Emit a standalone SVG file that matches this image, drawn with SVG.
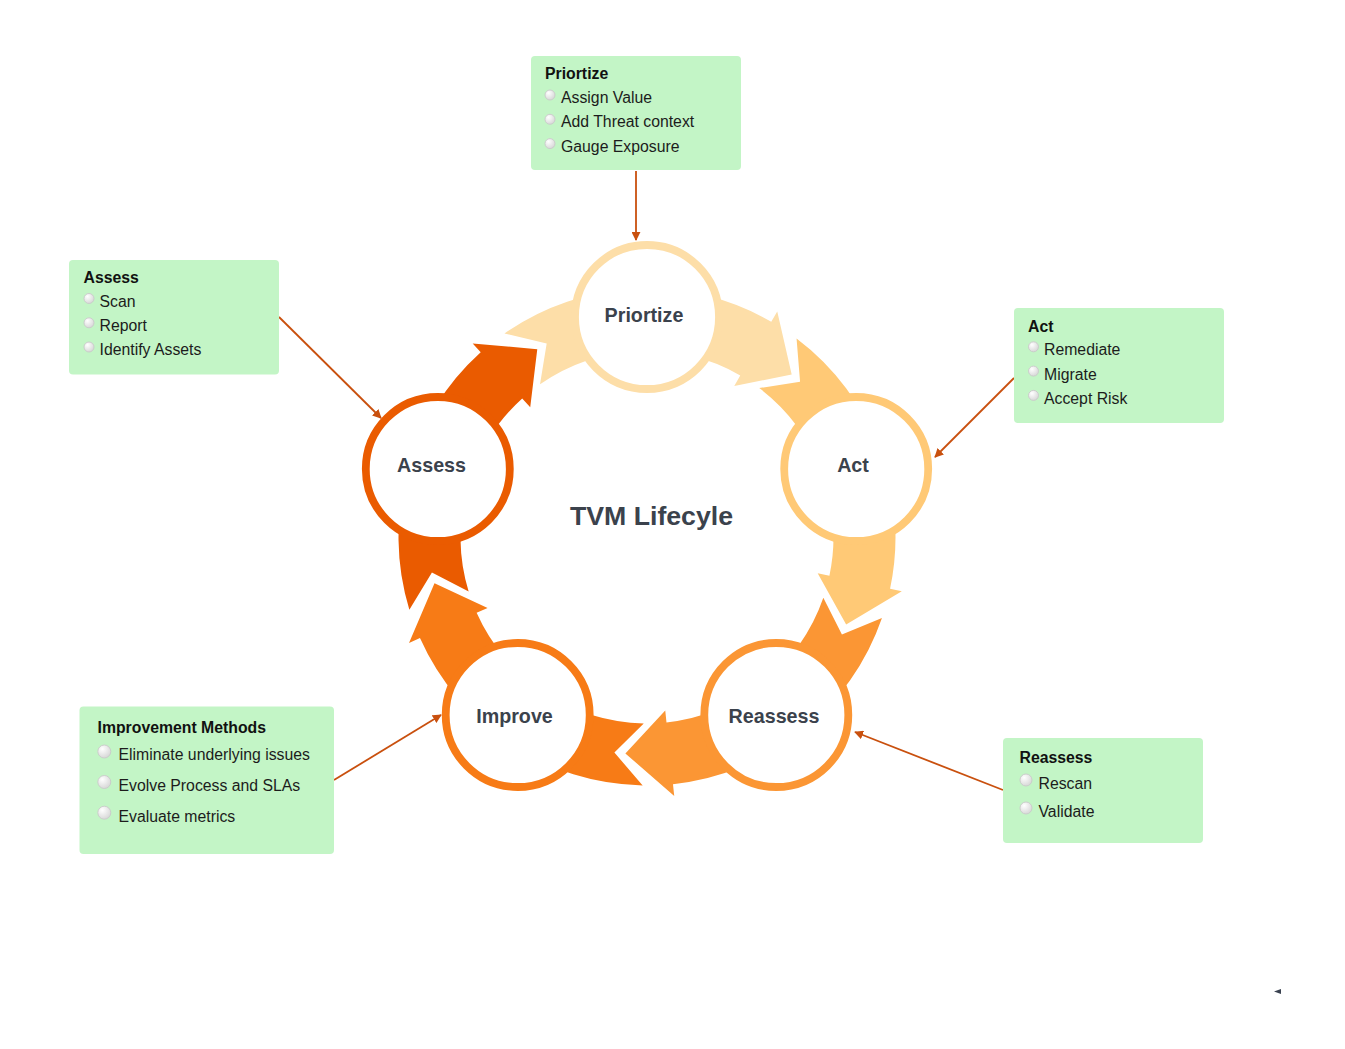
<svg xmlns="http://www.w3.org/2000/svg" width="1345" height="1049" viewBox="0 0 1345 1049">
<defs>
<style>
.box{fill:#C3F5C6;}
.ttl{font-family:"Liberation Sans",Arial,sans-serif;font-weight:bold;font-size:15.8px;fill:#111;}
.itm{font-family:"Liberation Sans",Arial,sans-serif;font-size:15.8px;fill:#1c1c1c;}
.bul{fill:url(#bg);stroke:#c9c9c9;stroke-width:0.9;}
.node{fill:#fff;stroke-width:7.8;}
.nlab{font-family:"Liberation Sans",Arial,sans-serif;font-weight:bold;font-size:19.7px;fill:#3B424C;text-anchor:middle;}
.conn{stroke:#C9500E;stroke-width:1.8;fill:none;marker-end:url(#ah);}
</style>
<radialGradient id="bg" cx="0.35" cy="0.3" r="0.75">
<stop offset="0" stop-color="#ffffff"/>
<stop offset="1" stop-color="#d6d6d6"/>
</radialGradient>
<marker id="ah" viewBox="0 0 10 10" refX="9" refY="5" markerWidth="5" markerHeight="5" orient="auto" markerUnits="strokeWidth">
<path d="M0,0 L10,5 L0,10 Z" fill="#C9500E"/>
</marker>
<path id="seg" d="M203.56,-142.53 A248.5,248.5 0 0 1 215.21,124.25 L225.60,130.25 L162.39,144.69 L151.12,87.25 L161.51,93.25 A186.5,186.5 0 0 0 152.77,-106.97 L193.54,-100.32 Z"/>
</defs>
<rect width="1345" height="1049" fill="#fff"/>

<g id="cycle">
<use href="#seg" fill="#FDDEA8" transform="translate(647,537) rotate(-90)"/>
<use href="#seg" fill="#FFC976" transform="translate(647,537) rotate(-18)"/>
<use href="#seg" fill="#FB9634" transform="translate(647,537) rotate(54)"/>
<use href="#seg" fill="#F77B16" transform="translate(647,537) rotate(126)"/>
<use href="#seg" fill="#EA5B00" transform="translate(647,537) rotate(198)"/>
</g>

<g id="connectors">
<line class="conn" x1="636" y1="171" x2="636" y2="240"/>
<line class="conn" x1="279" y1="317" x2="381" y2="418"/>
<line class="conn" x1="1014" y1="378" x2="935" y2="457"/>
<line class="conn" x1="1003" y1="790" x2="855" y2="732"/>
<line class="conn" x1="334" y1="780" x2="441" y2="715"/>
</g>

<g id="node-priortize">
<circle class="node" cx="647" cy="317" r="72" stroke="#FDDEA8"/>
<text class="nlab" x="644" y="322">Priortize</text>
</g>
<g id="node-act">
<circle class="node" cx="856.2" cy="469" r="72" stroke="#FFC976"/>
<text class="nlab" x="853" y="472">Act</text>
</g>
<g id="node-reassess">
<circle class="node" cx="776.3" cy="715" r="72" stroke="#FB9634"/>
<text class="nlab" x="774" y="723">Reassess</text>
</g>
<g id="node-improve">
<circle class="node" cx="517.7" cy="715" r="72" stroke="#F77B16"/>
<text class="nlab" x="514.5" y="723">Improve</text>
</g>
<g id="node-assess">
<circle class="node" cx="437.8" cy="469" r="72" stroke="#EA5B00"/>
<text class="nlab" x="431.5" y="472">Assess</text>
</g>

<g id="title">
<text x="651.5" y="524.5" font-family="'Liberation Sans',Arial,sans-serif" font-weight="bold" font-size="26.7" fill="#3B424C" text-anchor="middle">TVM Lifecyle</text>
</g>

<g id="box-priortize">
<rect class="box" x="531" y="56" width="210" height="114" rx="4"/>
<text class="ttl" x="545" y="79">Priortize</text>
<circle class="bul" cx="550" cy="95" r="5"/>
<text class="itm" x="561" y="103">Assign Value</text>
<circle class="bul" cx="550" cy="119.3" r="5"/>
<text class="itm" x="561" y="127.3">Add Threat context</text>
<circle class="bul" cx="550" cy="143.6" r="5"/>
<text class="itm" x="561" y="151.6">Gauge Exposure</text>
</g>

<g id="box-assess">
<rect class="box" x="69" y="260" width="210" height="114.5" rx="4"/>
<text class="ttl" x="83.5" y="283">Assess</text>
<circle class="bul" cx="89" cy="298.5" r="5"/>
<text class="itm" x="99.5" y="306.7">Scan</text>
<circle class="bul" cx="89" cy="322.8" r="5"/>
<text class="itm" x="99.5" y="331">Report</text>
<circle class="bul" cx="89" cy="347" r="5"/>
<text class="itm" x="99.5" y="355.3">Identify Assets</text>
</g>

<g id="box-act">
<rect class="box" x="1014" y="308" width="210" height="115" rx="4"/>
<text class="ttl" x="1028" y="331.5">Act</text>
<circle class="bul" cx="1033.5" cy="346.8" r="5"/>
<text class="itm" x="1044" y="355.3">Remediate</text>
<circle class="bul" cx="1033.5" cy="371.1" r="5"/>
<text class="itm" x="1044" y="379.6">Migrate</text>
<circle class="bul" cx="1033.5" cy="395.4" r="5"/>
<text class="itm" x="1044" y="403.9">Accept Risk</text>
</g>

<g id="box-reassess">
<rect class="box" x="1003" y="738" width="200" height="105" rx="4"/>
<text class="ttl" x="1019.5" y="763">Reassess</text>
<circle class="bul" cx="1026" cy="780" r="6"/>
<text class="itm" x="1038.5" y="788.5">Rescan</text>
<circle class="bul" cx="1026" cy="808" r="6"/>
<text class="itm" x="1038.5" y="816.8">Validate</text>
</g>

<g id="box-improvement">
<rect class="box" x="79.5" y="706.5" width="254.5" height="147.5" rx="4"/>
<text class="ttl" x="97.5" y="732.7">Improvement Methods</text>
<circle class="bul" cx="104.3" cy="751.5" r="6.5"/>
<text class="itm" x="118.5" y="760">Eliminate underlying issues</text>
<circle class="bul" cx="104.3" cy="782" r="6.5"/>
<text class="itm" x="118.5" y="791">Evolve Process and SLAs</text>
<circle class="bul" cx="104.3" cy="812.7" r="6.5"/>
<text class="itm" x="118.5" y="821.7">Evaluate metrics</text>
</g>

<g id="stray-mark">
<polygon points="1274,991.5 1281,989 1281,994" fill="#3a4250"/>
</g>
</svg>
